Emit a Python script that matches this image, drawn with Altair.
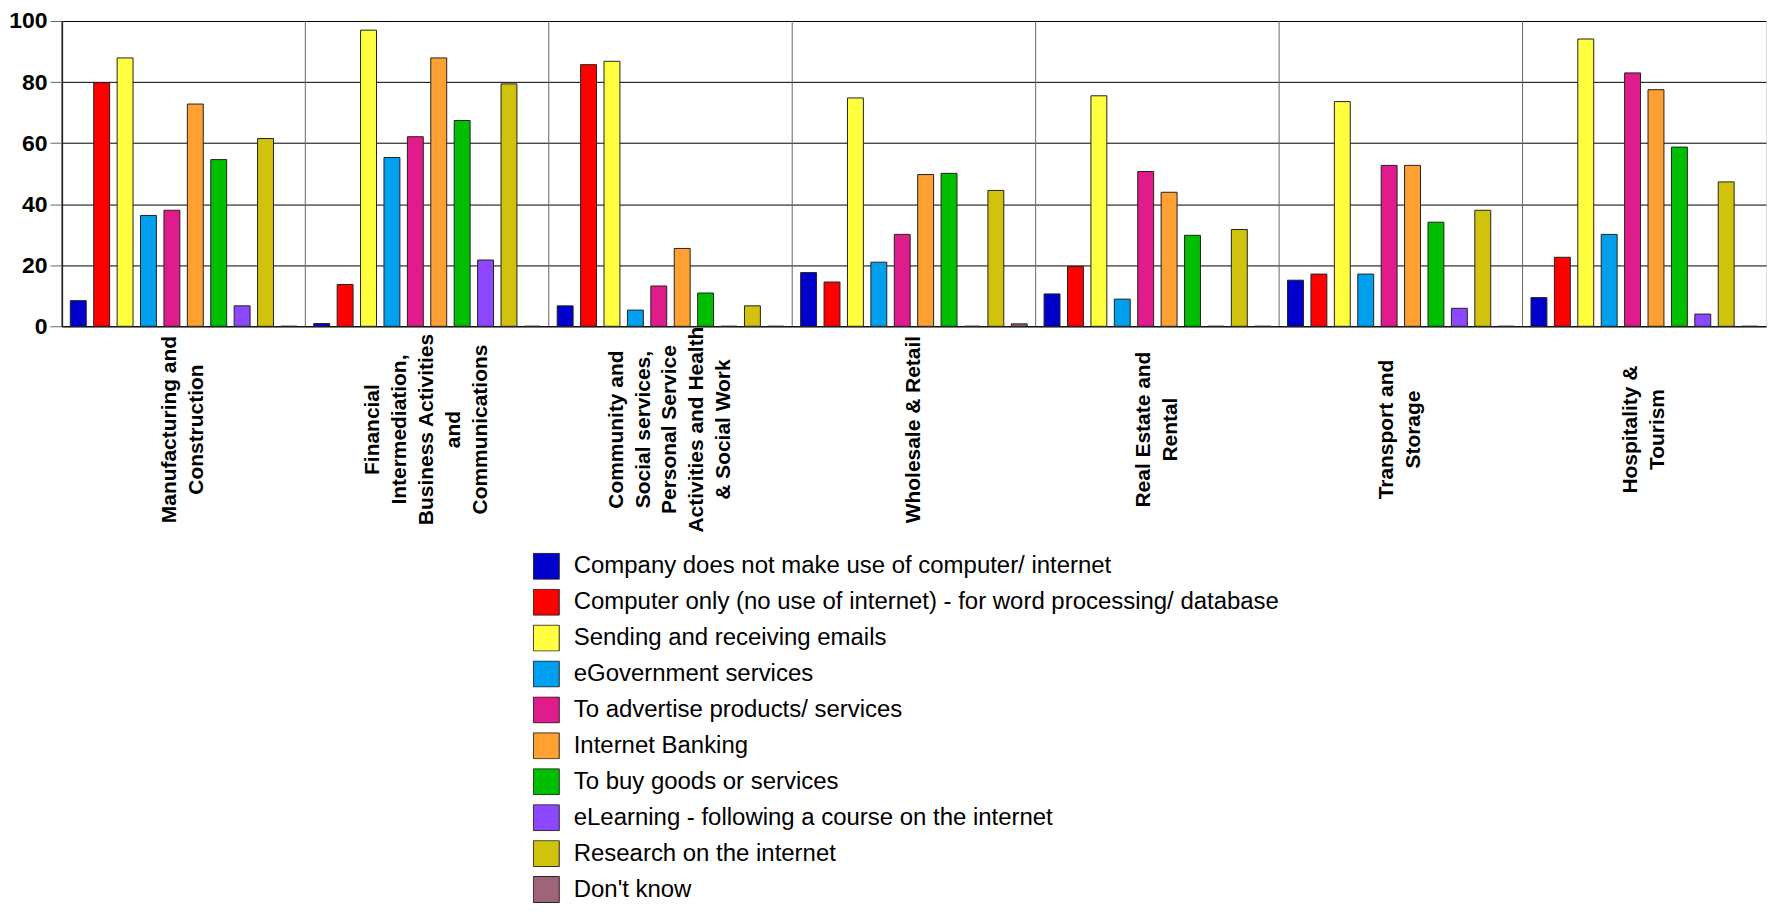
import altair as alt
import pandas as pd

# ---- data ----
categories = [
    "Manufacturing and\nConstruction",
    "Financial\nIntermediation,\nBusiness Activities\nand\nCommunications",
    "Community and\nSocial services,\nPersonal Service\nActivities and Health\n& Social Work",
    "Wholesale & Retail",
    "Real Estate and\nRental",
    "Transport and\nStorage",
    "Hospitality &\nTourism",
]

series = [
    "Company does not make use of computer/ internet",
    "Computer only (no use of internet) - for word processing/ database",
    "Sending and receiving emails",
    "eGovernment services",
    "To advertise products/ services",
    "Internet Banking",
    "To buy goods or services",
    "eLearning - following a course on the internet",
    "Research on the internet",
    "Don't know",
]

colors = ["#0000CC", "#FF0000", "#FFFF40", "#00A0EE", "#E01B8B",
          "#FFA033", "#00BF00", "#8C47FF", "#D1C20D", "#A06478"]

company_none = [8.4, 0.9, 6.7, 17.6, 10.6, 15.1, 9.4]
computer_only = [79.8, 13.7, 85.7, 14.5, 19.6, 17.1, 22.6]
emails = [87.9, 97.0, 86.8, 74.8, 75.5, 73.6, 94.1]
egov = [36.3, 55.3, 5.3, 21.0, 8.9, 17.1, 30.1]
advertise = [38.0, 62.1, 13.2, 30.1, 50.7, 52.7, 83.0]
banking = [72.8, 87.9, 25.5, 49.7, 43.9, 52.7, 77.5]
buy_goods = [54.6, 67.4, 10.9, 50.1, 29.8, 34.1, 58.7]
elearning = [6.7, 21.7, 0.0, 0.0, 0.0, 5.9, 4.0]
research = [61.5, 79.4, 6.7, 44.5, 31.7, 38.0, 47.3]
dont_know = [0.0, 0.0, 0.0, 0.8, 0.0, 0.0, 0.0]

y_ticks = [0, 20, 40, 60, 80, 100]

all_values = [company_none, computer_only, emails, egov, advertise,
              banking, buy_goods, elearning, research, dont_know]

rows = []
for s, vals in zip(series, all_values):
    for c, v in zip(categories, vals):
        rows.append({"sector": c, "use": s, "value": v})
df = pd.DataFrame(rows)
sep_df = pd.DataFrame({"sector": categories})

FONT = "Liberation Sans"
LINE_H = 27

x_axis = alt.Axis(
    title=None,
    grid=False,
    ticks=False,
    domainColor="black",
    domainWidth=1,
    labelAngle=270,
    labelAlign="center",
    labelBaseline="middle",
    labelPadding=103,
    labelOffset={"expr": f"-(length(split(datum.label, '\\n')) - 1) * {LINE_H / 2}"},
    labelFont=FONT,
    labelFontWeight="bold",
    labelFontSize=21,
    labelLineHeight=LINE_H,
    labelColor="black",
    labelLimit=400,
    labelOverlap=False,
    labelExpr="split(datum.label, '\\n')",
)

bars = alt.Chart(df).mark_bar(stroke="#222222", strokeWidth=1).encode(
    x=alt.X(
        "sector:N",
        sort=categories,
        scale=alt.Scale(paddingInner=0, paddingOuter=0),
        axis=x_axis,
    ),
    xOffset=alt.XOffset(
        "use:N",
        sort=series,
        scale=alt.Scale(paddingInner=0.32, paddingOuter=0.36),
    ),
    y=alt.Y(
        "value:Q",
        scale=alt.Scale(domain=[0, 100], nice=False),
        axis=alt.Axis(
            title=None,
            values=y_ticks,
            labelFont=FONT,
            labelFontWeight="bold",
            labelFontSize=23,
            labelColor="black",
            labelPadding=3,
            tickSize=12,
            tickColor="#666666",
            domainColor="black",
            domainWidth=1.5,
            gridColor="black",
            gridWidth=1,
            gridOpacity=1,
        ),
    ),
    color=alt.Color(
        "use:N",
        sort=series,
        scale=alt.Scale(domain=series, range=colors),
        legend=alt.Legend(
            title=None,
            orient="none",
            legendX=472,
            legendY=533,
            direction="vertical",
            padding=0,
            symbolType="square",
            symbolSize=676,
            symbolStrokeColor="#222222",
            symbolStrokeWidth=1,
            symbolOpacity=1,
            labelFont=FONT,
            labelFontSize=24,
            labelColor="black",
            labelOffset=14,
            labelLimit=1000,
            clipHeight=27,
            rowPadding=9,
        ),
    ),
)

separators = alt.Chart(sep_df).mark_rule(color="#666666", strokeWidth=1).encode(
    x=alt.X("sector:N", sort=categories, bandPosition=0),
)

chart = alt.layer(separators, bars).properties(
    width=1708,
    height=306,
    padding={"left": 54, "top": 12, "right": 1, "bottom": 580},
    autosize=alt.AutoSizeParams(type="none"),
).configure_view(
    stroke="#333333",
    strokeWidth=1,
).configure(background="white")

chart.save("out.html", embed_options={"renderer": "svg", "actions": False})
